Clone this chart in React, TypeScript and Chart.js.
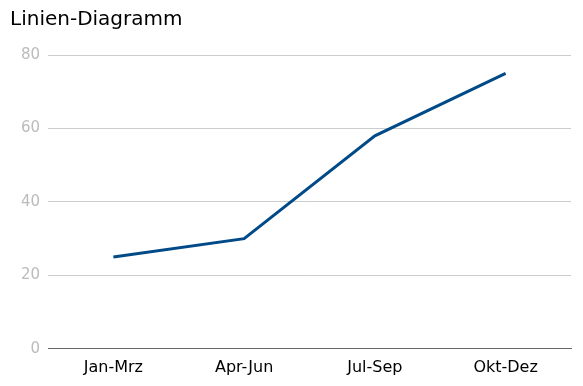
import React, { useEffect, useRef } from "react";
import { Chart, registerables } from "chart.js";

Chart.register(...registerables);

const categories = ["Jan-Mrz", "Apr-Jun", "Jul-Sep", "Okt-Dez"];
const values = [25, 30, 58, 75];
const yTicks = [0, 20, 40, 60, 80];
const titleText = "Linien-Diagramm";

export default function App() {
  const ref = useRef<HTMLCanvasElement | null>(null);
  useEffect(() => {
    document.body.style.margin = "0";
    const ctx = ref.current!;
    const chart = new Chart(ctx, {
      type: "line",
      data: {
        labels: categories,
        datasets: [
          {
            data: values,
            borderColor: "#004a87",
            backgroundColor: "#004a87",
            borderWidth: 3,
            pointRadius: 0,
            tension: 0,
            fill: false,
          },
        ],
      },
      options: {
        animation: false,
        responsive: false,
        devicePixelRatio: 1,
        layout: { padding: { left: 10, right: 12, top: 8, bottom: 0 } },
        font: { family: "DejaVu Sans" },
        plugins: {
          legend: { display: false },
          tooltip: { enabled: false },
          title: {
            display: true,
            text: titleText,
            align: "start",
            color: "#000",
            font: { family: "DejaVu Sans", size: 20, weight: "normal" },
            padding: { top: 0, bottom: 23 },
          },
        },
        scales: {
          x: {
            offset: true,
            grid: { display: false, drawTicks: false },
            border: { display: true, color: "#666", width: 1 },
            ticks: {
              color: "#000",
              padding: 9,
              font: { family: "DejaVu Sans", size: 16 },
            },
          },
          y: {
            min: 0,
            max: 80,
            afterBuildTicks: (axis: any) => {
              axis.ticks = yTicks.map((v) => ({ value: v }));
            },
            afterFit: (axis: any) => {
              axis.width = 38;
            },
            grid: { color: "#cccccc", drawTicks: false },
            border: { display: false },
            ticks: {
              color: "#bbbbbb",
              padding: 8,
              font: { family: "DejaVu Sans", size: 15 },
            },
          },
        },
      },
    });
    return () => chart.destroy();
  }, []);
  return <canvas ref={ref} width={583} height={386} style={{ display: "block" }} />;
}
